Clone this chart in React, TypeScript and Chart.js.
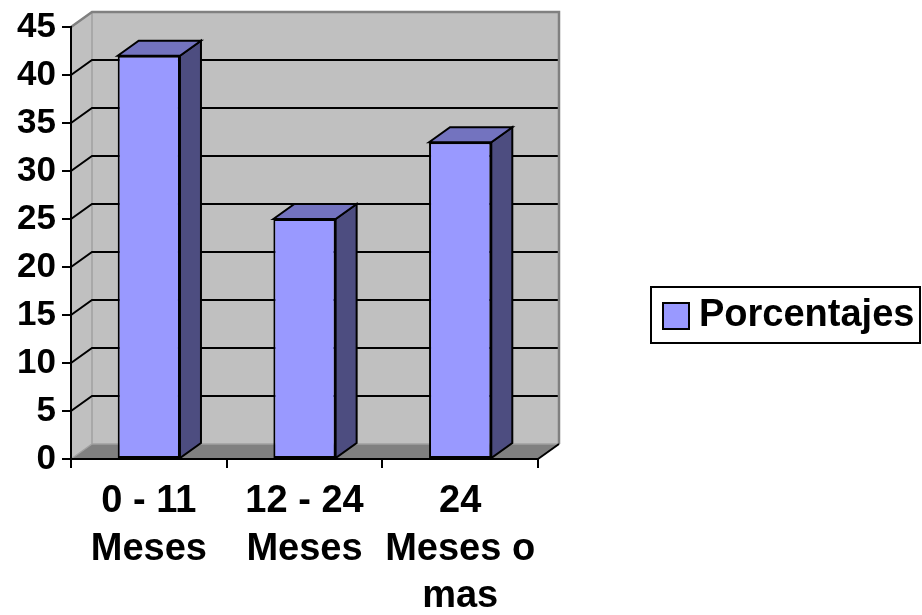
import React, { useEffect, useRef } from "react";
import { Chart, registerables } from "chart.js";

Chart.register(...registerables);

// ---- data ----
const categories: string[][] = [["0 - 11", "Meses"], ["12 - 24", "Meses"], ["24", "Meses o", "mas"]];
const seriesLabel = "Porcentajes";
const values: number[] = [42, 25, 33];
const yMin = 0;
const yMax = 45;
const yStep = 5;

// ---- style ----
const FONT = "'Liberation Sans', Arial, sans-serif";
const DX = 21;
const DY = -15;
const FRONT = "#9999FF";
const TOP = "#7373BF";
const SIDE = "#4D4D80";
const WALL = "#C0C0C0";
const FLOOR = "#808080";

const threeD = {
  id: "threeD",
  beforeDraw(chart: any) {
    const { ctx, chartArea } = chart;
    const { left, right, top, bottom } = chartArea;
    const ys = chart.scales.y;
    ctx.save();
    ctx.fillStyle = WALL;
    ctx.fillRect(left + DX, top + DY, right - left, bottom - top);
    ctx.beginPath();
    ctx.moveTo(left, top);
    ctx.lineTo(left + DX, top + DY);
    ctx.lineTo(left + DX, bottom + DY);
    ctx.lineTo(left, bottom);
    ctx.closePath();
    ctx.fill();
    ctx.fillStyle = FLOOR;
    ctx.beginPath();
    ctx.moveTo(left, bottom);
    ctx.lineTo(right, bottom);
    ctx.lineTo(right + DX, bottom + DY);
    ctx.lineTo(left + DX, bottom + DY);
    ctx.closePath();
    ctx.fill();
    ctx.strokeStyle = "#A0A0A0";
    ctx.lineWidth = 1.5;
    ctx.beginPath();
    ctx.moveTo(left + DX, top + DY);
    ctx.lineTo(left + DX, bottom + DY);
    ctx.lineTo(right + DX, bottom + DY);
    ctx.moveTo(left, bottom);
    ctx.lineTo(left + DX, bottom + DY);
    ctx.stroke();
    ctx.strokeStyle = "#000";
    ctx.lineWidth = 2;
    for (let v = yMin + yStep; v < yMax; v += yStep) {
      const p = ys.getPixelForValue(v);
      ctx.beginPath();
      ctx.moveTo(left, p);
      ctx.lineTo(left + DX, p + DY);
      ctx.lineTo(right + DX, p + DY);
      ctx.stroke();
    }
    ctx.strokeStyle = "#808080";
    ctx.lineWidth = 2.5;
    ctx.beginPath();
    ctx.moveTo(left, top);
    ctx.lineTo(left + DX, top + DY);
    ctx.lineTo(right + DX, top + DY);
    ctx.lineTo(right + DX, bottom + DY);
    ctx.stroke();
    ctx.strokeStyle = "#000";
    ctx.lineWidth = 2;
    ctx.beginPath();
    ctx.moveTo(right, bottom);
    ctx.lineTo(right + DX, bottom + DY);
    ctx.stroke();
    ctx.restore();
  },
  afterDatasetsDraw(chart: any) {
    const { ctx } = chart;
    const meta = chart.getDatasetMeta(0);
    ctx.save();
    ctx.strokeStyle = "#000";
    ctx.lineWidth = 2;
    ctx.lineJoin = "miter";
    meta.data.forEach((el: any) => {
      const { x, y, width, base } = el.getProps(["x", "y", "width", "base"], true);
      const l = x - width / 2;
      const r = x + width / 2;
      ctx.fillStyle = SIDE;
      ctx.beginPath();
      ctx.moveTo(r, y);
      ctx.lineTo(r + DX, y + DY);
      ctx.lineTo(r + DX, base + DY);
      ctx.lineTo(r, base);
      ctx.closePath();
      ctx.fill();
      ctx.stroke();
      ctx.fillStyle = TOP;
      ctx.beginPath();
      ctx.moveTo(l, y);
      ctx.lineTo(l + DX, y + DY);
      ctx.lineTo(r + DX, y + DY);
      ctx.lineTo(r, y);
      ctx.closePath();
      ctx.fill();
      ctx.stroke();
    });
    ctx.restore();
  },
  afterDraw(chart: any) {
    const { ctx } = chart;
    const ds = chart.data.datasets[0];
    ctx.save();
    ctx.fillStyle = "#fff";
    ctx.strokeStyle = "#000";
    ctx.lineWidth = 2;
    ctx.fillRect(651, 287, 269, 56);
    ctx.strokeRect(651, 287, 269, 56);
    ctx.fillStyle = ds.backgroundColor;
    ctx.fillRect(663, 303, 26, 26);
    ctx.strokeRect(663, 303, 26, 26);
    ctx.fillStyle = "#000";
    ctx.font = `bold 38px ${FONT}`;
    ctx.textBaseline = "middle";
    ctx.textAlign = "left";
    ctx.fillText(ds.label, 699, 316);
    ctx.restore();
  },
};

export default function App() {
  const ref = useRef<HTMLCanvasElement>(null);
  useEffect(() => {
    const chart = new Chart(ref.current as HTMLCanvasElement, {
      type: "bar",
      data: {
        labels: categories,
        datasets: [
          {
            label: seriesLabel,
            data: values,
            backgroundColor: FRONT,
            borderColor: "#000",
            borderWidth: 2,
            borderSkipped: false,
            categoryPercentage: 0.8,
            barPercentage: 0.5,
          },
        ],
      },
      options: {
        animation: false,
        responsive: false,
        devicePixelRatio: 1,
        layout: { padding: { top: 27, right: 384, left: 0, bottom: 0 } },
        plugins: { legend: { display: false }, tooltip: { enabled: false } },
        scales: {
          x: {
            grid: { drawOnChartArea: false, drawTicks: true, tickLength: 9, color: "#000", lineWidth: 2 },
            border: { display: true, color: "#000", width: 2 },
            ticks: {
              color: "#000",
              font: { family: FONT, size: 38, weight: "bold", lineHeight: 1.25 },
              padding: 10,
              maxRotation: 0,
              autoSkip: false,
            },
            afterFit: (s: any) => {
              s.height = 156;
            },
          },
          y: {
            min: yMin,
            max: yMax,
            grid: { drawOnChartArea: false, drawTicks: true, tickLength: 9, color: "#000", lineWidth: 2 },
            border: { display: true, color: "#000", width: 2 },
            ticks: {
              stepSize: yStep,
              color: "#000",
              font: { family: FONT, size: 35, weight: "bold" },
              padding: 6,
            },
            afterFit: (s: any) => {
              s.width = 71;
            },
          },
        },
      },
      plugins: [threeD],
    } as any);
    return () => chart.destroy();
  }, []);
  return (
    <div style={{ position: "fixed", left: 0, top: 0, width: 922, height: 615, background: "#fff" }}>
      <canvas ref={ref} width={922} height={615} style={{ display: "block" }} />
    </div>
  );
}
